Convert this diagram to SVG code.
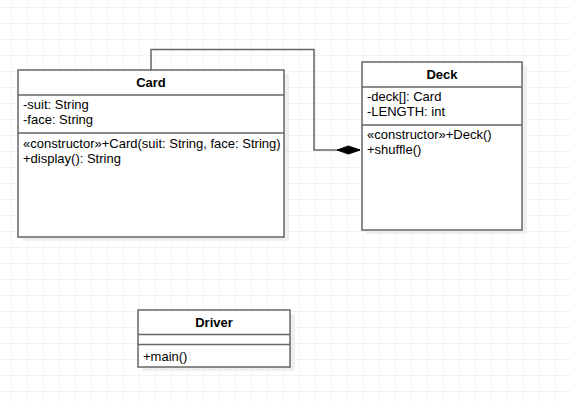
<svg xmlns="http://www.w3.org/2000/svg" width="571" height="403" viewBox="0 0 571 403">
<defs>
<pattern id="grid" x="11" y="7" width="16" height="16" patternUnits="userSpaceOnUse">
<path d="M0 0H16M0 0V16" fill="none" stroke="#e8e8e8" stroke-width="1"/>
</pattern>
<marker id="diamond" markerWidth="24" markerHeight="10" refX="23" refY="5" orient="auto" markerUnits="userSpaceOnUse">
<path d="M0 5L11.5 1L23 5L11.5 9Z" fill="#000" stroke="#000" stroke-width="1"/>
</marker>
</defs>
<style>
.box{fill:#fff;stroke:#666;stroke-width:1.5}
.shadow{fill:#efefef}
.sep{stroke:#666;stroke-width:1.5}
.title{font-family:"Liberation Sans",Arial,sans-serif;font-size:13px;font-weight:bold;fill:#000;text-anchor:middle}
.t{font-family:"Liberation Sans",Arial,sans-serif;font-size:13px;fill:#000}
.edge{fill:none;stroke:#666;stroke-width:1.5}
</style>
<rect width="571" height="403" fill="#fff"/>
<rect width="571" height="403" fill="url(#grid)"/>
<g id="connectors">
<path class="edge" d="M151 70V49.5H314V150H360" marker-end="url(#diamond)"/>
</g>
<g id="card">
<rect class="shadow" x="22" y="74" width="267" height="167"/>
<rect class="box" x="18" y="70" width="266" height="167"/>
<line class="sep" x1="18" y1="95" x2="284" y2="95"/>
<line class="sep" x1="18" y1="133" x2="284" y2="133"/>
<text class="title" x="151" y="87">Card</text>
<text class="t" x="23" y="109">-suit: String</text>
<text class="t" x="23" y="124">-face: String</text>
<text class="t" x="23" y="148">«constructor»+Card(suit: String, face: String)</text>
<text class="t" x="23" y="163">+display(): String</text>
</g>
<g id="deck">
<rect class="shadow" x="366" y="66" width="161" height="168"/>
<rect class="box" x="362" y="62" width="160" height="168"/>
<line class="sep" x1="362" y1="87" x2="522" y2="87"/>
<line class="sep" x1="362" y1="125" x2="522" y2="125"/>
<text class="title" x="442" y="79">Deck</text>
<text class="t" x="367" y="101">-deck[]: Card</text>
<text class="t" x="367" y="116">-LENGTH: int</text>
<text class="t" x="367" y="139">«constructor»+Deck()</text>
<text class="t" x="367" y="154">+shuffle()</text>
</g>
<g id="driver">
<rect class="shadow" x="142" y="314" width="153" height="57"/>
<rect class="box" x="138" y="310" width="152" height="57"/>
<line class="sep" x1="138" y1="334.5" x2="290" y2="334.5"/>
<line class="sep" x1="138" y1="344.5" x2="290" y2="344.5"/>
<text class="title" x="214" y="327">Driver</text>
<text class="t" x="143" y="361">+main()</text>
</g>
</svg>
